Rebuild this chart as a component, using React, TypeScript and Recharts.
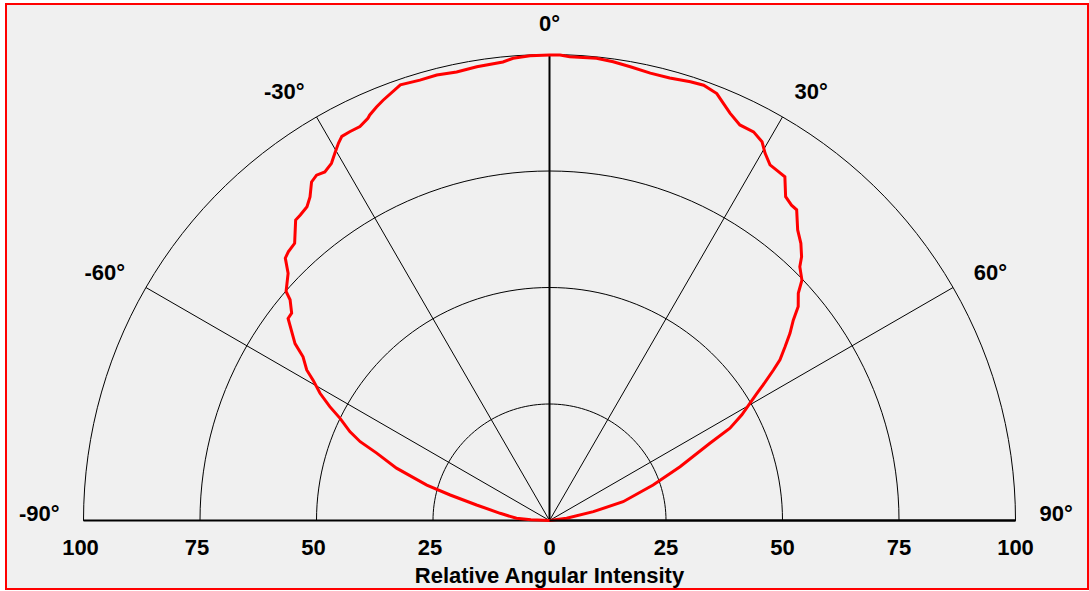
import React from 'react';
import {RadarChart, Radar, PolarGrid, PolarAngleAxis, PolarRadiusAxis} from 'recharts';

// measured beam profile: angle (deg) -> relative intensity (%)
const angles = [
  -90, -88, -86.2, -81.7, -78, -75.6, -73.9, -71.1, -68.7, -67.4, -66, -64, -62.6, -61, -59.3, -58.2,
  -56.4, -55.2, -52.3, -51.2, -49.6, -49, -46.6, -45.2, -44.2, -42.6, -40.2, -39.2, -37.7, -36.5, -35.1,
  -34, -32.8, -31.4, -30.3, -29.2, -28.4, -27.2, -25.7, -24.3, -23.9, -22.7, -21.6, -18.9, -16.4, -14.2,
  -11.7, -9.1, -5.8, -4.5, -2.4, 0, 1.3, 2.5, 5.8, 7.9, 10.1, 12.7, 15.2, 17.8, 19.5, 21.4, 22.6, 23.9,
  25.7, 27.7, 29.3, 30.4, 31.8, 33, 34.4, 36.1, 37.5, 38.5, 40.5, 42.2, 43.7, 44.6, 46.4, 47.6, 49.3,
  50.6, 52.1, 53.6, 55.1, 56.1, 57.6, 58.5, 59.7, 61.2, 62.9, 64.3, 67.6, 71.1, 75.7, 78.6, 82.7, 90,
];
const intensity = [
  0, 4, 7.1, 10.7, 16, 22, 27.4, 34.7, 39.8, 44, 46.9, 50, 53.1, 56.3, 59, 61.3,
  63.5, 66.5, 70.9, 71, 73.1, 74.9, 77.2, 79.9, 80.4, 80.8, 84.4, 84.6, 85.1, 86.4, 88.8,
  89.4, 89, 89.8, 91.3, 92.8, 93.7, 93.8, 93.8, 94.7, 95.2, 96.2, 97, 98.8, 98.5, 98.6,
  98.3, 98.6, 98.9, 99.5, 99.8, 99.9, 99.9, 99.6, 99.7, 99.4, 98.9, 98.4, 98.4, 98.9, 99.1, 98.4, 97, 95.6,
  94.2, 94.2, 93.2, 91.4, 89.8, 89.6, 89.4, 86, 85.3, 85.2, 82, 80.3, 78.3, 76.5, 74.8, 72.3, 70.4,
  67.7, 65.4, 62.8, 60.3, 57.9, 54.3, 52.2, 49.8, 47.1, 43.5, 38.2, 30.3, 23.5, 16.3, 9.6, 3.7, 0,
];
const angleTicks = [-90, -60, -30, 0, 30, 60, 90];
const radiusTicks = [0, 25, 50, 75, 100];

const data = angles.map((a, i) => ({angle: a, intensity: intensity[i]}));

const CX = 549.5;
const CY = 520.5;
const R = 466;
const FONT = '"Liberation Sans", Arial, sans-serif';
const FS = 22;

// arcs are drawn as fine polygons over the upper half
const arcAngles = Array.from({length: 91}, (_, i) => i * 2);

const AngleTick = (props: any) => {
  const v = props.payload.value as number;
  const rad = (v * Math.PI) / 180;
  const s = Math.sin(rad);
  const x = CX + (R + 24) * s;
  const y = CY - (R + 24) * Math.cos(rad) + 12 * s * s * Math.cos(rad);
  const anchor = v > 0 ? 'start' : v < 0 ? 'end' : 'middle';
  return (
    <text x={x} y={y} textAnchor={anchor} fontFamily={FONT} fontSize={FS} fontWeight="bold" fill="#000">
      {`${v}°`}
    </text>
  );
};

// radius scale is symmetric: each tick is labelled on both sides of the centre
const RadiusTick = (props: any) => {
  const {x, y, payload} = props;
  const style = {fontFamily: FONT, fontSize: FS, fontWeight: 'bold' as const, fill: '#000'};
  return (
    <g>
      <text x={x} y={y + 34} textAnchor="middle" {...style}>{payload.value}</text>
      {payload.value !== 0 && (
        <text x={2 * CX - x - 3} y={y + 34} textAnchor="middle" {...style}>{payload.value}</text>
      )}
    </g>
  );
};

export default function App() {
  return (
    <div style={{position: 'absolute', left: 0, top: 0, width: 1089, height: 591, background: '#fff'}}>
      <div style={{
        position: 'absolute', left: 5, top: 3, width: 1080, height: 583,
        border: '2px solid #ff0000', background: '#f0f0f0',
      }}/>
      <div style={{position: 'absolute', left: 0, top: 0}}>
        <RadarChart width={1089} height={591} data={data} cx={CX} cy={CY} innerRadius={0} outerRadius={R}
                    startAngle={180} endAngle={0} margin={{top: 0, right: 0, bottom: 0, left: 0}}>
          <PolarGrid gridType="polygon" radialLines={false} polarAngles={arcAngles} stroke="#000"
                     strokeOpacity={1} strokeWidth={1}/>
          <PolarGrid gridType="polygon" polarRadius={[]} polarAngles={angleTicks.map(t => 90 - t)}
                     stroke="#000" strokeOpacity={1} strokeWidth={1}/>
          <PolarGrid gridType="polygon" polarRadius={[]} polarAngles={[0, 90, 180]} stroke="#000"
                     strokeOpacity={1} strokeWidth={2}/>
          <PolarAngleAxis dataKey="angle" type="number" domain={[-90, 90]} ticks={angleTicks as any}
                          tickCount={7} axisLine={false} tickLine={false} tick={<AngleTick/>}/>
          <PolarRadiusAxis angle={0} type="number" domain={[0, 100]} ticks={radiusTicks as any} tickCount={5}
                           axisLine={{stroke: '#000', strokeWidth: 2}} tickLine={false} tick={<RadiusTick/>}/>
          <Radar dataKey="intensity" stroke="#ff0000" strokeWidth={3} fill="none" fillOpacity={0}
                 dot={false} isAnimationActive={false}/>
        </RadarChart>
      </div>
      <div style={{
        position: 'absolute', left: 0, width: 1099, top: 565, textAlign: 'center',
        fontFamily: FONT, fontSize: FS, fontWeight: 'bold', lineHeight: '21px', color: '#000',
      }}>
        Relative Angular Intensity
      </div>
    </div>
  );
}
